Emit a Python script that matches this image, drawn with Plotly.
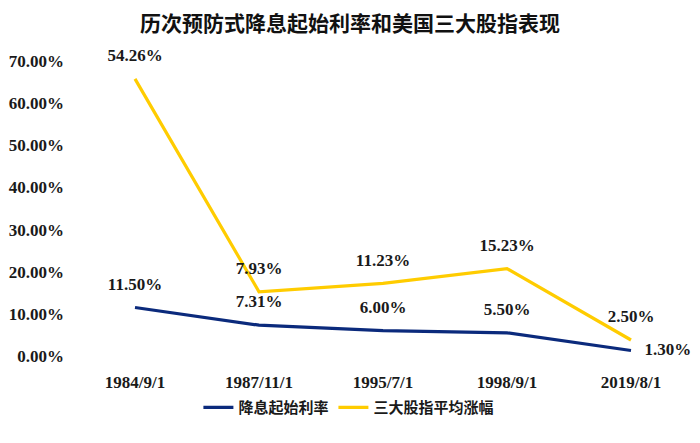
import plotly.graph_objects as go

categories = ["1984/9/1", "1987/11/1", "1995/7/1", "1998/9/1", "2019/8/1"]
rate_start = [11.50, 7.31, 6.00, 5.50, 1.30]
index_gain = [54.26, 7.93, 11.23, 15.23, 2.50]
y_ticks = [0, 10, 20, 30, 40, 50, 60, 70]

NAVY = "#0B2A7C"
YELLOW = "#FFCC00"
FONT = "Liberation Serif, 'Noto Sans CJK SC', serif"
TXT = "#1a1a1a"

rate_pos = ["top center"] * 4 + ["middle right"]
gain_pos = ["top center"] * 5

fig = go.Figure()
fig.add_trace(go.Scatter(
    x=categories, y=rate_start, name="降息起始利率",
    mode="lines+markers+text", stackgroup="s", fill="none",
    line=dict(color=NAVY, width=3.2),
    marker=dict(size=20, color="rgba(0,0,0,0)"),
    text=[f"{v:.2f}%" for v in rate_start], textposition=rate_pos,
    textfont=dict(family=FONT, size=17, color=TXT, weight="bold"),
    cliponaxis=False,
))
fig.add_trace(go.Scatter(
    x=categories, y=index_gain, name="三大股指平均涨幅",
    mode="lines+markers+text", stackgroup="s", fill="none",
    line=dict(color=YELLOW, width=3.2),
    marker=dict(size=20, color="rgba(0,0,0,0)"),
    text=[f"{v:.2f}%" for v in index_gain], textposition=gain_pos,
    textfont=dict(family=FONT, size=17, color=TXT, weight="bold"),
    cliponaxis=False,
))

fig.update_layout(
    width=700, height=443,
    margin=dict(l=73, r=7, t=61, b=87),
    paper_bgcolor="white", plot_bgcolor="white",
    title=dict(text="历次预防式降息起始利率和美国三大股指表现", x=0.5, xanchor="center",
               y=1 - 24 / 443, yanchor="middle",
               font=dict(family=FONT, size=21, color="#111", weight="bold")),
    font=dict(family=FONT, size=17, color=TXT, weight="bold"),
    showlegend=True,
    legend=dict(orientation="h", x=0.445, xanchor="center",
                y=-0.175, yanchor="middle",
                font=dict(family=FONT, size=15, color=TXT, weight="bold"),
                traceorder="normal"),
    hovermode=False,
)
fig.update_xaxes(type="category", range=[-0.5, 4.5], showgrid=False, showline=False,
                 zeroline=False, ticks="", ticklabelstandoff=14,
                 tickfont=dict(family=FONT, size=17, color=TXT, weight="bold"))
fig.update_yaxes(range=[0, 70], tickvals=y_ticks,
                 ticktext=[f"{v:.2f}%" for v in y_ticks],
                 showgrid=False, showline=False, zeroline=False, ticks="",
                 ticklabelstandoff=8,
                 tickfont=dict(family=FONT, size=17, color=TXT, weight="bold"))

fig.write_html("out.html", config={"displayModeBar": False},
               post_script="document.body.style.margin='0';")
